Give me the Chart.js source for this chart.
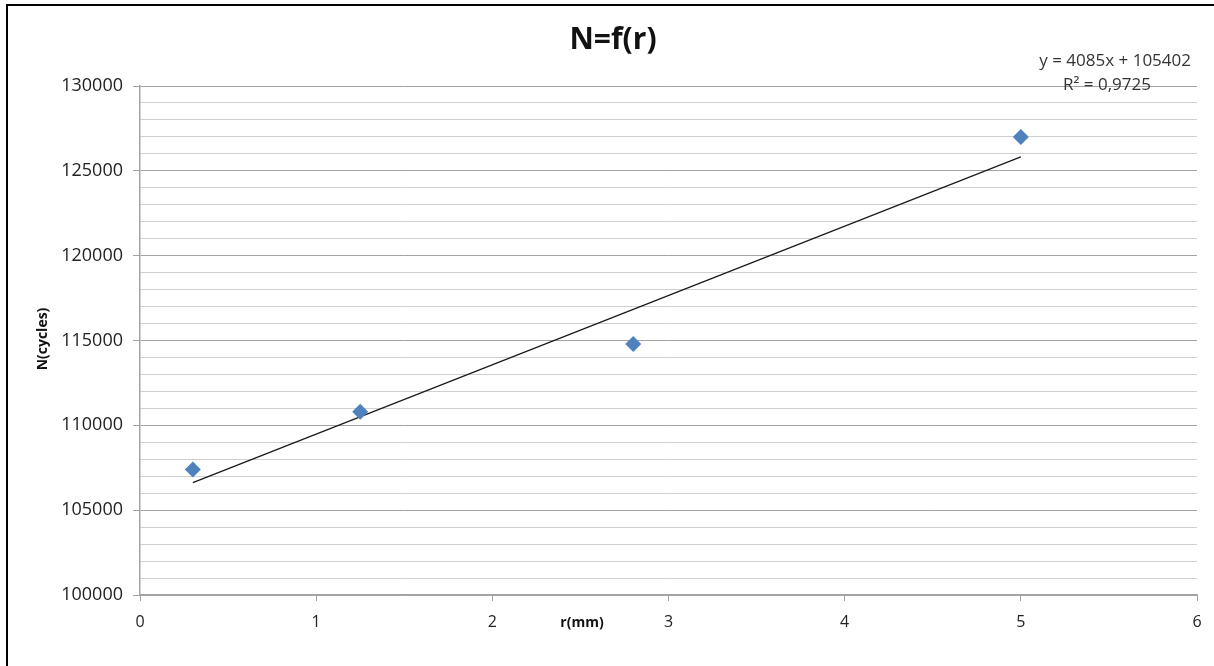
<!DOCTYPE html>
<html lang="fr">
<head>
    <meta charset="UTF-8">
    <title>N=f(r)</title>
    <script src="https://cdn.jsdelivr.net/npm/chart.js"></script>
    <style>
        html, body { margin: 0; padding: 0; background: #fff; }
        #wrap { width: 1214px; height: 666px; position: relative; }
    </style>
</head>
<body>
    <div id="wrap"><canvas id="chart"></canvas></div>
    <script>
        // measured points
        const rValues = [0.3, 1.25, 2.8, 5];
        const nValues = [107400, 110800, 114800, 127000];

        // linear trendline ends (y = 4085x + 105402)
        const trendR = [0.3, 5];
        const trendN = [106627, 125827];

        const xTicks = [0, 1, 2, 3, 4, 5, 6];
        const titleText = 'N=f(r)';
        const xTitle = 'r(mm)';
        const yTitle = 'N(cycles)';
        const eqLine = 'y = 4085x + 105402';
        const r2Line = 'R\u00b2 = 0,9725';

        const font = "'Open Sans', sans-serif";
        const majorGrid = '#a3a3a3';
        const minorGrid = '#d0d0d0';

        // title, axis titles, equation and frame
        const extras = {
            id: 'extras',
            afterDraw(chart) {
                const ctx = chart.ctx;
                ctx.save();
                ctx.fillStyle = '#000';
                ctx.fillRect(6, 4, 1208, 2);
                ctx.fillRect(6, 4, 2, 662);

                ctx.textAlign = 'center';
                ctx.textBaseline = 'middle';
                ctx.fillStyle = '#111';
                ctx.font = 'bold 30px ' + font;
                ctx.fillText(titleText, 613, 40);

                ctx.font = 'bold 14px ' + font;
                ctx.fillText(xTitle, 582, 623);

                ctx.save();
                ctx.translate(43, 339);
                ctx.rotate(-Math.PI / 2);
                ctx.fillText(yTitle, 0, 0);
                ctx.restore();

                ctx.font = '17px ' + font;
                ctx.fillStyle = '#333';
                ctx.textAlign = 'right';
                ctx.fillText(eqLine, 1191, 61);
                ctx.textAlign = 'left';
                ctx.fillText(r2Line, 1063, 85);
                ctx.restore();
            }
        };

        new Chart(document.getElementById('chart'), {
            type: 'scatter',
            data: {
                datasets: [{
                    label: 'N',
                    data: rValues.map((r, i) => ({ x: r, y: nValues[i] })),
                    pointStyle: 'rectRot',
                    pointRadius: 8,
                    pointHoverRadius: 8,
                    backgroundColor: '#4f81bd',
                    borderColor: '#4f81bd',
                    borderWidth: 0,
                    order: 1
                }, {
                    label: 'Linéaire',
                    type: 'line',
                    data: trendR.map((r, i) => ({ x: r, y: trendN[i] })),
                    borderColor: '#1a1a1a',
                    borderWidth: 1.3,
                    pointRadius: 0,
                    fill: false,
                    order: 2
                }]
            },
            options: {
                responsive: true,
                maintainAspectRatio: false,
                animation: false,
                layout: { padding: { left: 0, top: 86, right: 17, bottom: 0 } },
                plugins: {
                    legend: { display: false },
                    title: { display: false },
                    tooltip: { enabled: false }
                },
                scales: {
                    x: {
                        type: 'linear',
                        min: 0,
                        max: 6,
                        afterBuildTicks: axis => { axis.ticks = xTicks.map(v => ({ value: v })); },
                        afterFit: axis => { axis.height = 71; },
                        border: { display: true, color: majorGrid, width: 1.5 },
                        grid: {
                            drawOnChartArea: false,
                            drawTicks: true,
                            tickLength: 6,
                            tickColor: majorGrid
                        },
                        ticks: {
                            padding: 12,
                            maxRotation: 0,
                            color: '#222',
                            font: { family: font, size: 16 }
                        }
                    },
                    y: {
                        min: 100000,
                        max: 130000,
                        afterFit: axis => { axis.width = 140; },
                        border: { display: true, color: majorGrid, width: 1.5 },
                        grid: {
                            color: c => (c.tick.value % 5000 === 0 ? majorGrid : minorGrid),
                            lineWidth: 1,
                            tickLength: 7,
                            tickColor: c => (c.tick.value % 5000 === 0 ? majorGrid : 'rgba(0,0,0,0)')
                        },
                        ticks: {
                            stepSize: 1000,
                            autoSkip: false,
                            padding: 10,
                            color: '#222',
                            font: { family: font, size: 18 },
                            callback: v => (v % 5000 === 0 ? String(v) : '')
                        }
                    }
                }
            },
            plugins: [extras]
        });
    </script>
</body>
</html>
